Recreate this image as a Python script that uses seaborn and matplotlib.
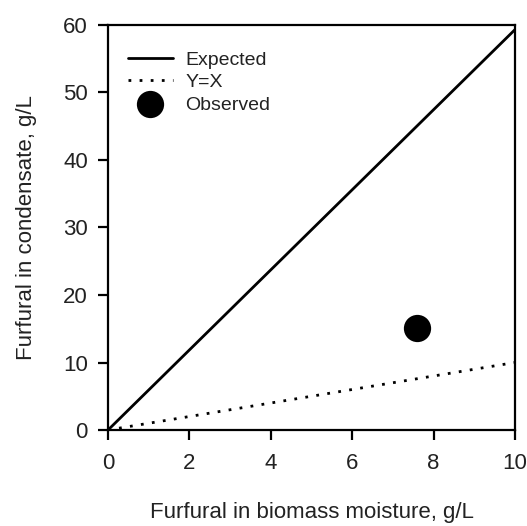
import matplotlib
matplotlib.use("Agg")
import matplotlib.pyplot as plt
import seaborn as sns
import pandas as pd

# Data
x_line = [0, 10]
expected = [0, 59.3]
y_eq_x = [0, 10]
obs_x = [7.6]
obs_y = [15.1]
x_ticks = [0, 2, 4, 6, 8, 10]
y_ticks = [0, 10, 20, 30, 40, 50, 60]

sns.set_theme(style="ticks")
plt.rcParams['font.family'] = ['Liberation Sans', 'DejaVu Sans']
txt = '#222222'

fig = plt.figure(figsize=(5.27, 5.26), dpi=100)
ax = fig.add_axes([0.205, 0.1825, 0.772, 0.77])

df_exp = pd.DataFrame({'x': x_line, 'y': expected})
df_yx = pd.DataFrame({'x': x_line, 'y': y_eq_x})
df_obs = pd.DataFrame({'x': obs_x, 'y': obs_y})

sns.lineplot(data=df_exp, x='x', y='y', ax=ax, color='black', linewidth=2,
             label='Expected')
sns.lineplot(data=df_yx, x='x', y='y', ax=ax, color='black', linewidth=2,
             linestyle=(0, (1, 3)), label='Y=X')
sns.scatterplot(data=df_obs, x='x', y='y', ax=ax, color='black', s=330,
                edgecolor='black', label='Observed', zorder=5)

ax.set_xlim(0, 10)
ax.set_ylim(0, 60)
ax.set_xticks(x_ticks)
ax.set_yticks(y_ticks)
ax.tick_params(axis='both', direction='out', length=7.5, width=1.6,
               labelsize=16, colors='black', labelcolor=txt)
ax.tick_params(axis='x', pad=9)
ax.tick_params(axis='y', pad=7)
for s in ax.spines.values():
    s.set_linewidth(1.6)
    s.set_color('black')

ax.set_xlabel('Furfural in biomass moisture, g/L', fontsize=16, color=txt, labelpad=20)
ax.set_ylabel('Furfural in condensate, g/L', fontsize=16, color=txt, labelpad=19)

leg = ax.legend(loc='upper left', bbox_to_anchor=(0.03, 0.955), frameon=False,
                fontsize=14, handlelength=2.3, handletextpad=0.65,
                labelspacing=0.25, borderaxespad=0)
for t in leg.get_texts():
    t.set_color(txt)

fig.savefig('out.png', dpi=100)
